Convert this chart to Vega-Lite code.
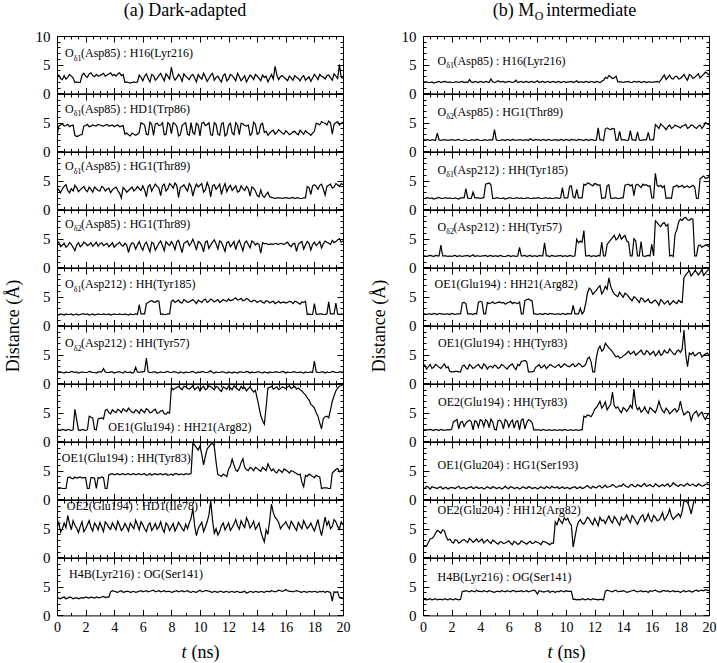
{
"$schema":"https://vega.github.io/schema/vega-lite/v6.json",
"background":"white",
"padding":{"left":3,"top":1,"right":0,"bottom":0},
"data":{"values":[
{"t":0,"a1":2.9,"a2":2.7,"a3":3.8,"a4":4.1,"a5":1.9,"a6":1.9,"a7":2.1,"a8":1.9,"a9":5.2,"a10":3.1,"b1":1.9,"b2":1.9,"b3":1.9,"b4":2.0,"b5":2.0,"b6":2.9,"b7":2.1,"b8":2.0,"b9":2.1,"b10":2.8},
{"t":0.25,"a1":2.6,"a2":4.6,"a3":2.9,"a4":3.6,"a5":2.0,"a6":2.0,"a7":1.9,"a8":2.0,"a9":4.4,"a10":2.9,"b1":2.0,"b2":2.0,"b3":2.0,"b4":1.9,"b5":1.9,"b6":2.5,"b7":2.0,"b8":2.3,"b9":2.0,"b10":2.7},
{"t":0.5,"a1":3.1,"a2":4.4,"a3":4.0,"a4":4.2,"a5":1.8,"a6":1.8,"a7":2.0,"a8":1.9,"a9":6.0,"a10":3.2,"b1":1.9,"b2":1.9,"b3":1.9,"b4":2.1,"b5":2.0,"b6":3.3,"b7":2.1,"b8":1.8,"b9":3.2,"b10":2.9},
{"t":0.75,"a1":2.8,"a2":4.7,"a3":3.3,"a4":3.8,"a5":1.9,"a6":1.9,"a7":2.1,"a8":3.8,"a9":7.3,"a10":3.0,"b1":1.8,"b2":2.0,"b3":1.8,"b4":1.9,"b5":2.1,"b6":2.8,"b7":1.9,"b8":2.1,"b9":3.6,"b10":2.8},
{"t":1,"a1":3.0,"a2":4.5,"a3":3.6,"a4":4.0,"a5":2.0,"a6":2.1,"a7":1.9,"a8":3.7,"a9":4.8,"a10":3.1,"b1":2.0,"b2":3.2,"b3":2.0,"b4":2.0,"b5":1.9,"b6":3.1,"b7":2.0,"b8":1.9,"b9":4.7,"b10":2.7},
{"t":1.25,"a1":1.9,"a2":2.8,"a3":4.2,"a4":2.9,"a5":1.9,"a6":1.9,"a7":5.6,"a8":3.9,"a9":5.6,"a10":3.0,"b1":1.9,"b2":1.9,"b3":1.9,"b4":3.9,"b5":2.0,"b6":2.6,"b7":2.1,"b8":2.2,"b9":4.2,"b10":2.8},
{"t":1.5,"a1":1.9,"a2":2.7,"a3":3.1,"a4":4.3,"a5":1.8,"a6":1.8,"a7":2.0,"a8":3.8,"a9":4.3,"a10":2.9,"b1":2.1,"b2":2.0,"b3":2.0,"b4":2.0,"b5":1.9,"b6":3.4,"b7":1.9,"b8":2.0,"b9":4.6,"b10":2.9},
{"t":1.75,"a1":3.2,"a2":2.9,"a3":3.7,"a4":3.9,"a5":2.0,"a6":2.0,"a7":2.1,"a8":3.7,"a9":6.2,"a10":3.1,"b1":1.9,"b2":1.9,"b3":1.9,"b4":1.9,"b5":2.0,"b6":2.9,"b7":2.0,"b8":1.8,"b9":3.0,"b10":2.7},
{"t":2,"a1":3.0,"a2":4.5,"a3":3.4,"a4":4.2,"a5":1.9,"a6":1.9,"a7":1.9,"a8":3.8,"a9":5.0,"a10":3.2,"b1":1.9,"b2":2.0,"b3":1.9,"b4":1.9,"b5":2.1,"b6":2.0,"b7":2.1,"b8":2.1,"b9":2.7,"b10":2.8},
{"t":2.25,"a1":3.4,"a2":4.3,"a3":3.9,"a4":4.0,"a5":1.8,"a6":2.1,"a7":4.4,"a8":1.9,"a9":6.4,"a10":3.0,"b1":2.0,"b2":1.9,"b3":2.0,"b4":2.1,"b5":1.9,"b6":2.1,"b7":3.6,"b8":1.9,"b9":3.1,"b10":2.9},
{"t":2.5,"a1":3.1,"a2":4.6,"a3":3.0,"a4":3.7,"a5":2.0,"a6":1.9,"a7":4.1,"a8":3.8,"a9":4.6,"a10":3.1,"b1":1.9,"b2":2.1,"b3":1.8,"b4":2.0,"b5":2.0,"b6":2.0,"b7":2.2,"b8":2.3,"b9":2.5,"b10":2.7},
{"t":2.75,"a1":3.3,"a2":4.4,"a3":3.6,"a4":4.4,"a5":1.9,"a6":1.8,"a7":2.0,"a8":1.9,"a9":5.5,"a10":3.2,"b1":2.1,"b2":1.9,"b3":2.0,"b4":1.9,"b5":3.9,"b6":3.0,"b7":3.5,"b8":2.0,"b9":3.0,"b10":4.2},
{"t":3,"a1":3.1,"a2":4.6,"a3":3.2,"a4":4.1,"a5":1.9,"a6":2.0,"a7":4.0,"a8":3.7,"a9":6.1,"a10":3.1,"b1":2.0,"b2":2.0,"b3":3.6,"b4":2.0,"b5":3.8,"b6":2.7,"b7":3.2,"b8":1.8,"b9":2.8,"b10":4.3},
{"t":3.25,"a1":3.5,"a2":4.4,"a3":3.8,"a4":3.8,"a5":2.0,"a6":2.6,"a7":3.9,"a8":3.8,"a9":4.5,"a10":3.3,"b1":2.4,"b2":1.9,"b3":1.9,"b4":1.9,"b5":2.0,"b6":3.3,"b7":3.7,"b8":2.1,"b9":3.3,"b10":4.1},
{"t":3.5,"a1":3.2,"a2":4.7,"a3":3.5,"a4":4.2,"a5":1.9,"a6":1.9,"a7":5.6,"a8":1.9,"a9":5.8,"a10":3.2,"b1":1.9,"b2":2.0,"b3":3.0,"b4":2.2,"b5":1.9,"b6":2.6,"b7":2.0,"b8":1.9,"b9":2.6,"b10":4.2},
{"t":3.75,"a1":3.6,"a2":4.5,"a3":2.9,"a4":3.9,"a5":1.8,"a6":2.0,"a7":4.8,"a8":4.4,"a9":4.9,"a10":4.1,"b1":2.0,"b2":2.1,"b3":2.0,"b4":2.0,"b5":2.0,"b6":3.1,"b7":3.4,"b8":2.2,"b9":3.2,"b10":4.4},
{"t":4,"a1":3.3,"a2":4.3,"a3":3.7,"a4":3.5,"a5":2.0,"a6":1.8,"a7":5.2,"a8":4.3,"a9":5.4,"a10":4.2,"b1":2.1,"b2":1.9,"b3":1.9,"b4":1.9,"b5":4.2,"b6":2.8,"b7":3.8,"b8":2.0,"b9":2.9,"b10":4.2},
{"t":4.25,"a1":3.4,"a2":4.6,"a3":3.3,"a4":4.1,"a5":1.9,"a6":2.0,"a7":5.6,"a8":4.5,"a9":6.3,"a10":4.0,"b1":1.9,"b2":2.0,"b3":2.0,"b4":2.0,"b5":2.0,"b6":3.4,"b7":2.6,"b8":1.8,"b9":2.5,"b10":4.3},
{"t":4.5,"a1":3.1,"a2":4.4,"a3":2.0,"a4":3.9,"a5":1.9,"a6":1.9,"a7":5.0,"a8":4.4,"a9":4.7,"a10":4.3,"b1":2.0,"b2":1.9,"b3":4.5,"b4":1.9,"b5":4.0,"b6":2.5,"b7":3.5,"b8":2.2,"b9":3.1,"b10":4.1},
{"t":4.75,"a1":1.9,"a2":3.0,"a3":3.5,"a4":4.2,"a5":2.0,"a6":2.1,"a7":5.4,"a8":4.3,"a9":5.9,"a10":4.1,"b1":2.5,"b2":2.0,"b3":4.3,"b4":2.1,"b5":3.9,"b6":3.0,"b7":3.9,"b8":1.9,"b9":2.4,"b10":4.2},
{"t":5,"a1":1.9,"a2":2.9,"a3":3.3,"a4":2.6,"a5":1.8,"a6":1.9,"a7":5.8,"a8":4.5,"a9":4.6,"a10":4.2,"b1":1.9,"b2":3.8,"b3":1.9,"b4":2.0,"b5":3.8,"b6":3.2,"b7":2.1,"b8":2.1,"b9":2.8,"b10":4.0},
{"t":5.25,"a1":1.9,"a2":3.2,"a3":3.9,"a4":4.3,"a5":1.9,"a6":1.8,"a7":5.1,"a8":4.4,"a9":5.5,"a10":4.1,"b1":2.2,"b2":1.9,"b3":2.0,"b4":1.9,"b5":4.0,"b6":2.6,"b7":3.6,"b8":2.0,"b9":2.3,"b10":4.2},
{"t":5.5,"a1":1.9,"a2":2.8,"a3":3.5,"a4":3.2,"a5":2.0,"a6":2.8,"a7":5.5,"a8":4.3,"a9":6.5,"a10":4.0,"b1":2.0,"b2":2.0,"b3":1.9,"b4":2.0,"b5":3.9,"b6":3.3,"b7":3.3,"b8":1.8,"b9":2.7,"b10":4.3},
{"t":5.75,"a1":3.2,"a2":3.3,"a3":3.6,"a4":4.5,"a5":3.6,"a6":1.9,"a7":4.9,"a8":4.5,"a9":4.8,"a10":4.2,"b1":1.9,"b2":1.9,"b3":1.8,"b4":1.9,"b5":3.7,"b6":2.8,"b7":3.8,"b8":2.3,"b9":2.5,"b10":4.1},
{"t":6,"a1":2.2,"a2":4.8,"a3":4.1,"a4":3.0,"a5":2.0,"a6":2.0,"a7":5.3,"a8":4.4,"a9":5.7,"a10":4.1,"b1":2.1,"b2":2.0,"b3":2.0,"b4":2.1,"b5":4.0,"b6":2.9,"b7":2.5,"b8":1.9,"b9":2.9,"b10":4.2},
{"t":6.25,"a1":3.4,"a2":3.0,"a3":2.2,"a4":4.4,"a5":3.8,"a6":4.4,"a7":5.7,"a8":4.2,"a9":4.5,"a10":4.3,"b1":1.9,"b2":2.1,"b3":1.9,"b4":2.0,"b5":3.8,"b6":3.4,"b7":3.7,"b8":2.1,"b9":2.2,"b10":4.3},
{"t":6.5,"a1":2.0,"a2":5.1,"a3":4.3,"a4":2.7,"a5":4.2,"a6":1.9,"a7":5.0,"a8":4.5,"a9":6.0,"a10":4.2,"b1":2.3,"b2":1.9,"b3":2.0,"b4":1.9,"b5":3.9,"b6":2.4,"b7":3.4,"b8":2.0,"b9":2.6,"b10":4.1},
{"t":6.75,"a1":3.1,"a2":2.8,"a3":3.8,"a4":4.2,"a5":4.1,"a6":2.0,"a7":5.4,"a8":4.4,"a9":5.2,"a10":4.4,"b1":2.0,"b2":2.0,"b3":1.9,"b4":3.5,"b5":4.1,"b6":3.1,"b7":2.0,"b8":1.8,"b9":2.4,"b10":4.2},
{"t":7,"a1":2.6,"a2":4.9,"a3":4.0,"a4":3.6,"a5":4.3,"a6":1.8,"a7":4.9,"a8":4.3,"a9":4.9,"a10":4.2,"b1":1.9,"b2":1.9,"b3":1.9,"b4":2.0,"b5":2.0,"b6":3.9,"b7":3.9,"b8":2.2,"b9":2.7,"b10":4.1},
{"t":7.25,"a1":3.5,"a2":4.6,"a3":2.4,"a4":4.6,"a5":1.9,"a6":2.0,"a7":5.3,"a8":4.5,"a9":6.2,"a10":4.1,"b1":2.1,"b2":2.0,"b3":2.0,"b4":1.9,"b5":4.5,"b6":3.8,"b7":3.2,"b8":1.9,"b9":2.3,"b10":4.3},
{"t":7.5,"a1":2.2,"a2":2.9,"a3":4.4,"a4":2.9,"a5":1.9,"a6":1.9,"a7":4.8,"a8":4.4,"a9":4.4,"a10":4.3,"b1":2.0,"b2":2.2,"b3":1.9,"b4":2.1,"b5":4.4,"b6":2.0,"b7":3.6,"b8":2.1,"b9":2.8,"b10":4.2},
{"t":7.75,"a1":3.0,"a2":5.0,"a3":3.6,"a4":4.1,"a5":2.0,"a6":2.1,"a7":5.1,"a8":4.2,"a9":5.6,"a10":4.2,"b1":1.9,"b2":1.9,"b3":2.0,"b4":2.0,"b5":2.0,"b6":2.1,"b7":2.0,"b8":2.0,"b9":2.5,"b10":4.4},
{"t":8,"a1":4.6,"a2":3.1,"a3":4.2,"a4":4.5,"a5":4.2,"a6":1.9,"a7":9.4,"a8":4.4,"a9":5.3,"a10":4.0,"b1":2.2,"b2":2.0,"b3":2.0,"b4":1.9,"b5":1.9,"b6":3.0,"b7":2.0,"b8":1.8,"b9":2.6,"b10":3.7},
{"t":8.25,"a1":2.3,"a2":4.8,"a3":4.6,"a4":3.1,"a5":4.0,"a6":2.0,"a7":9.2,"a8":4.5,"a9":4.6,"a10":4.2,"b1":2.0,"b2":1.9,"b3":1.9,"b4":2.0,"b5":2.0,"b6":2.7,"b7":1.9,"b8":2.2,"b9":2.2,"b10":4.2},
{"t":8.5,"a1":3.3,"a2":2.7,"a3":2.1,"a4":4.7,"a5":4.4,"a6":1.8,"a7":9.6,"a8":4.3,"a9":6.1,"a10":4.1,"b1":1.9,"b2":2.0,"b3":2.0,"b4":4.3,"b5":2.1,"b6":3.2,"b7":2.0,"b8":1.9,"b9":2.7,"b10":4.1},
{"t":8.75,"a1":2.1,"a2":4.5,"a3":4.0,"a4":2.6,"a5":3.9,"a6":1.9,"a7":9.0,"a8":4.4,"a9":5.0,"a10":4.3,"b1":2.1,"b2":2.1,"b3":1.9,"b4":2.0,"b5":1.9,"b6":2.9,"b7":2.0,"b8":2.1,"b9":2.4,"b10":4.3},
{"t":9,"a1":3.0,"a2":5.0,"a3":3.7,"a4":4.4,"a5":4.3,"a6":2.0,"a7":9.5,"a8":4.5,"a9":5.8,"a10":4.2,"b1":2.0,"b2":1.9,"b3":1.9,"b4":2.1,"b5":2.0,"b6":3.1,"b7":1.9,"b8":2.3,"b9":2.5,"b10":4.2},
{"t":9.25,"a1":2.4,"a2":2.8,"a3":4.5,"a4":3.8,"a5":4.1,"a6":1.9,"a7":9.1,"a8":4.4,"a9":6.0,"a10":4.1,"b1":1.9,"b2":2.0,"b3":2.0,"b4":1.9,"b5":1.9,"b6":2.8,"b7":2.0,"b8":2.0,"b9":6.2,"b10":4.0},
{"t":9.5,"a1":3.3,"a2":3.3,"a3":2.3,"a4":4.9,"a5":4.5,"a6":2.1,"a7":9.7,"a8":9.8,"a9":8.5,"a10":4.2,"b1":2.1,"b2":1.9,"b3":1.9,"b4":2.0,"b5":2.0,"b6":3.3,"b7":2.0,"b8":1.9,"b9":6.8,"b10":4.1},
{"t":9.75,"a1":2.0,"a2":4.9,"a3":4.4,"a4":3.0,"a5":3.8,"a6":1.8,"a7":9.3,"a8":9.0,"a9":3.8,"a10":4.0,"b1":2.0,"b2":2.0,"b3":3.8,"b4":1.9,"b5":2.1,"b6":3.0,"b7":1.9,"b8":2.2,"b9":5.9,"b10":4.2},
{"t":10,"a1":2.8,"a2":2.7,"a3":4.2,"a4":4.3,"a5":4.2,"a6":1.9,"a7":8.8,"a8":9.3,"a9":5.6,"a10":4.4,"b1":1.9,"b2":2.1,"b3":2.0,"b4":2.0,"b5":1.9,"b6":3.2,"b7":2.0,"b8":2.0,"b9":6.5,"b10":4.3},
{"t":10.25,"a1":3.5,"a2":5.1,"a3":3.0,"a4":2.7,"a5":4.4,"a6":2.0,"a7":9.6,"a8":6.0,"a9":4.5,"a10":4.2,"b1":2.0,"b2":1.9,"b3":4.0,"b4":2.1,"b5":2.0,"b6":2.9,"b7":2.0,"b8":1.8,"b9":6.0,"b10":4.2},
{"t":10.5,"a1":2.1,"a2":4.7,"a3":4.7,"a4":4.6,"a5":4.0,"a6":1.9,"a7":9.2,"a8":8.8,"a9":6.2,"a10":4.3,"b1":1.9,"b2":2.0,"b3":2.2,"b4":1.9,"b5":3.5,"b6":3.4,"b7":1.9,"b8":2.1,"b9":1.8,"b10":2.8},
{"t":10.75,"a1":3.2,"a2":2.9,"a3":2.2,"a4":3.9,"a5":4.6,"a6":2.2,"a7":9.5,"a8":9.6,"a9":9.9,"a10":4.1,"b1":2.2,"b2":1.9,"b3":3.5,"b4":4.9,"b5":2.0,"b6":3.1,"b7":2.0,"b8":1.9,"b9":5.2,"b10":2.7},
{"t":11,"a1":2.3,"a2":5.0,"a3":4.3,"a4":4.8,"a5":4.1,"a6":1.8,"a7":9.0,"a8":9.2,"a9":4.2,"a10":4.2,"b1":2.0,"b2":2.0,"b3":2.0,"b4":4.6,"b5":3.0,"b6":3.3,"b7":2.0,"b8":2.2,"b9":6.6,"b10":2.7},
{"t":11.25,"a1":3.0,"a2":3.0,"a3":3.9,"a4":3.2,"a5":4.5,"a6":1.9,"a7":9.4,"a8":4.3,"a9":3.9,"a10":4.0,"b1":1.9,"b2":1.9,"b3":4.4,"b4":6.4,"b5":2.4,"b6":3.0,"b7":4.4,"b8":2.0,"b9":5.8,"b10":2.8},
{"t":11.5,"a1":2.0,"a2":4.8,"a3":2.6,"a4":4.4,"a5":4.2,"a6":2.0,"a7":8.7,"a8":4.0,"a9":5.5,"a10":4.2,"b1":2.0,"b2":2.0,"b3":4.6,"b4":2.0,"b5":5.6,"b6":4.3,"b7":4.6,"b8":2.4,"b9":7.0,"b10":2.9},
{"t":11.75,"a1":3.4,"a2":2.7,"a3":4.5,"a4":2.8,"a5":4.3,"a6":1.9,"a7":9.3,"a8":4.2,"a9":4.8,"a10":4.1,"b1":2.1,"b2":2.1,"b3":4.3,"b4":1.9,"b5":6.2,"b6":3.8,"b7":4.3,"b8":1.9,"b9":6.1,"b10":2.7},
{"t":12,"a1":2.5,"a2":4.6,"a3":3.8,"a4":4.5,"a5":4.6,"a6":2.0,"a7":9.6,"a8":5.3,"a9":6.0,"a10":4.0,"b1":1.9,"b2":1.9,"b3":4.5,"b4":2.0,"b5":5.8,"b6":2.0,"b7":5.6,"b8":2.1,"b9":6.8,"b10":2.8},
{"t":12.25,"a1":3.1,"a2":3.2,"a3":3.3,"a4":4.0,"a5":4.4,"a6":1.8,"a7":9.0,"a8":7.0,"a9":5.2,"a10":4.2,"b1":2.0,"b2":4.1,"b3":4.2,"b4":2.1,"b5":6.6,"b6":6.0,"b7":6.4,"b8":2.3,"b9":5.5,"b10":2.7},
{"t":12.5,"a1":2.2,"a2":5.0,"a3":4.1,"a4":3.1,"a5":4.8,"a6":1.9,"a7":9.4,"a8":5.1,"a9":6.6,"a10":4.1,"b1":2.1,"b2":2.0,"b3":1.9,"b4":4.4,"b5":5.5,"b6":5.6,"b7":5.8,"b8":2.0,"b9":6.4,"b10":2.8},
{"t":12.75,"a1":2.9,"a2":2.9,"a3":3.2,"a4":4.7,"a5":4.5,"a6":2.0,"a7":8.9,"a8":5.5,"a9":4.9,"a10":4.0,"b1":2.8,"b2":3.9,"b3":2.0,"b4":2.0,"b5":6.8,"b6":7.0,"b7":6.9,"b8":2.5,"b9":5.9,"b10":4.2},
{"t":13,"a1":2.6,"a2":4.8,"a3":3.6,"a4":2.9,"a5":4.3,"a6":1.9,"a7":9.2,"a8":7.1,"a9":5.7,"a10":4.1,"b1":3.1,"b2":3.9,"b3":4.3,"b4":4.4,"b5":8.3,"b6":6.2,"b7":6.0,"b8":2.2,"b9":7.2,"b10":4.3},
{"t":13.25,"a1":2.0,"a2":4.4,"a3":4.0,"a4":4.6,"a5":4.7,"a6":2.1,"a7":8.8,"a8":5.2,"a9":6.9,"a10":3.9,"b1":2.6,"b2":4.0,"b3":1.9,"b4":5.2,"b5":6.0,"b6":5.5,"b7":8.6,"b8":2.6,"b9":6.0,"b10":4.1},
{"t":13.5,"a1":3.2,"a2":2.8,"a3":2.3,"a4":3.4,"a5":4.2,"a6":1.8,"a7":9.5,"a8":5.6,"a9":5.1,"a10":4.2,"b1":3.0,"b2":1.9,"b3":2.0,"b4":4.8,"b5":5.2,"b6":4.6,"b7":5.8,"b8":2.1,"b9":6.7,"b10":4.4},
{"t":13.75,"a1":2.4,"a2":5.1,"a3":3.7,"a4":4.4,"a5":4.4,"a6":1.9,"a7":8.6,"a8":5.0,"a9":6.3,"a10":4.0,"b1":2.0,"b2":3.5,"b3":1.9,"b4":5.8,"b5":5.8,"b6":4.4,"b7":5.4,"b8":2.4,"b9":5.6,"b10":4.2},
{"t":14,"a1":3.0,"a2":3.0,"a3":2.4,"a4":4.2,"a5":4.0,"a6":2.0,"a7":7.5,"a8":5.4,"a9":5.4,"a10":4.1,"b1":1.9,"b2":2.0,"b3":2.0,"b4":5.3,"b5":4.9,"b6":4.8,"b7":5.9,"b8":2.7,"b9":6.5,"b10":4.3},
{"t":14.25,"a1":2.2,"a2":4.7,"a3":3.4,"a4":2.5,"a5":4.3,"a6":1.9,"a7":4.5,"a8":4.9,"a9":4.6,"a10":4.2,"b1":2.0,"b2":1.9,"b3":4.3,"b4":4.6,"b5":5.4,"b6":5.3,"b7":5.2,"b8":2.2,"b9":7.4,"b10":4.0},
{"t":14.5,"a1":2.8,"a2":3.3,"a3":2.1,"a4":4.1,"a5":3.9,"a6":2.0,"a7":3.0,"a8":5.3,"a9":2.7,"a10":4.0,"b1":1.9,"b2":3.6,"b3":4.1,"b4":2.0,"b5":4.6,"b6":5.1,"b7":6.3,"b8":2.5,"b9":6.1,"b10":4.2},
{"t":14.75,"a1":2.0,"a2":2.8,"a3":3.0,"a4":4.0,"a5":4.2,"a6":1.8,"a7":9.3,"a8":6.2,"a9":4.0,"a10":4.2,"b1":2.1,"b2":2.0,"b3":2.4,"b4":5.0,"b5":5.0,"b6":5.6,"b7":9.1,"b8":2.3,"b9":6.9,"b10":4.4},
{"t":15,"a1":3.3,"a2":3.5,"a3":2.1,"a4":4.1,"a5":4.1,"a6":1.9,"a7":9.6,"a8":5.0,"a9":9.3,"a10":4.3,"b1":2.0,"b2":3.4,"b3":4.4,"b4":2.0,"b5":4.4,"b6":5.2,"b7":5.5,"b8":2.6,"b9":5.8,"b10":4.1},
{"t":15.25,"a1":4.7,"a2":3.0,"a3":1.9,"a4":4.2,"a5":3.8,"a6":2.0,"a7":9.3,"a8":4.8,"a9":7.0,"a10":4.1,"b1":1.9,"b2":1.9,"b3":3.8,"b4":4.5,"b5":4.8,"b6":5.8,"b7":5.1,"b8":2.2,"b9":7.1,"b10":4.3},
{"t":15.5,"a1":2.4,"a2":3.8,"a3":2.0,"a4":4.0,"a5":4.2,"a6":1.9,"a7":9.0,"a8":5.2,"a9":6.1,"a10":4.4,"b1":2.1,"b2":2.0,"b3":4.2,"b4":1.9,"b5":4.1,"b6":5.0,"b7":6.0,"b8":2.8,"b9":6.3,"b10":4.2},
{"t":15.75,"a1":3.1,"a2":3.2,"a3":1.9,"a4":4.1,"a5":4.0,"a6":2.1,"a7":9.5,"a8":4.7,"a9":5.5,"a10":4.2,"b1":2.0,"b2":3.3,"b3":4.0,"b4":2.1,"b5":4.6,"b6":5.5,"b7":4.9,"b8":2.4,"b9":7.6,"b10":4.0},
{"t":16,"a1":2.5,"a2":3.6,"a3":2.0,"a4":4.2,"a5":3.9,"a6":1.8,"a7":9.2,"a8":5.1,"a9":6.2,"a10":4.5,"b1":1.9,"b2":2.0,"b3":2.0,"b4":4.0,"b5":3.9,"b6":5.3,"b7":5.6,"b8":2.3,"b9":6.2,"b10":4.2},
{"t":16.25,"a1":3.0,"a2":2.9,"a3":1.9,"a4":3.9,"a5":4.2,"a6":1.9,"a7":9.7,"a8":4.6,"a9":5.0,"a10":4.2,"b1":2.0,"b2":4.7,"b3":6.3,"b4":8.1,"b5":4.4,"b6":4.8,"b7":5.0,"b8":2.7,"b9":7.0,"b10":4.4},
{"t":16.5,"a1":2.3,"a2":3.4,"a3":2.1,"a4":4.1,"a5":3.8,"a6":2.0,"a7":9.4,"a8":4.9,"a9":5.8,"a10":4.1,"b1":1.9,"b2":4.0,"b3":4.0,"b4":7.4,"b5":3.5,"b6":5.7,"b7":7.0,"b8":2.2,"b9":6.5,"b10":4.1},
{"t":16.75,"a1":2.8,"a2":3.1,"a3":2.0,"a4":2.8,"a5":4.1,"a6":1.9,"a7":9.1,"a8":4.5,"a9":4.7,"a10":4.3,"b1":2.8,"b2":4.5,"b3":3.8,"b4":7.6,"b5":4.2,"b6":5.1,"b7":5.3,"b8":2.6,"b9":7.8,"b10":4.3},
{"t":17,"a1":2.2,"a2":3.7,"a3":1.9,"a4":4.3,"a5":3.7,"a6":2.0,"a7":9.0,"a8":4.4,"a9":5.5,"a10":4.1,"b1":2.4,"b2":3.8,"b3":1.9,"b4":7.2,"b5":4.0,"b6":5.4,"b7":5.8,"b8":2.5,"b9":6.9,"b10":4.2},
{"t":17.25,"a1":3.1,"a2":3.0,"a3":2.0,"a4":3.2,"a5":4.0,"a6":1.8,"a7":8.4,"a8":2.2,"a9":6.4,"a10":4.2,"b1":3.2,"b2":4.6,"b3":2.0,"b4":2.0,"b5":3.6,"b6":6.0,"b7":4.8,"b8":2.2,"b9":8.4,"b10":4.1},
{"t":17.5,"a1":2.6,"a2":3.3,"a3":4.0,"a4":4.5,"a5":1.9,"a6":1.9,"a7":7.6,"a8":4.0,"a9":5.0,"a10":4.0,"b1":2.5,"b2":4.2,"b3":3.9,"b4":1.9,"b5":4.3,"b6":5.2,"b7":5.5,"b8":2.9,"b9":6.6,"b10":4.3},
{"t":17.75,"a1":2.1,"a2":2.8,"a3":2.6,"a4":3.0,"a5":1.9,"a6":2.0,"a7":6.5,"a8":4.2,"a9":6.0,"a10":4.1,"b1":3.0,"b2":4.4,"b3":4.2,"b4":6.5,"b5":3.8,"b6":5.6,"b7":5.1,"b8":2.4,"b9":7.3,"b10":4.2},
{"t":18,"a1":3.3,"a2":3.5,"a3":4.3,"a4":4.4,"a5":3.8,"a6":3.9,"a7":5.8,"a8":3.8,"a9":4.6,"a10":4.2,"b1":2.6,"b2":4.1,"b3":4.0,"b4":8.4,"b5":4.1,"b6":5.4,"b7":7.0,"b8":2.6,"b9":7.0,"b10":4.0},
{"t":18.25,"a1":2.4,"a2":4.8,"a3":3.5,"a4":4.1,"a5":1.9,"a6":1.9,"a7":4.4,"a8":4.0,"a9":6.6,"a10":4.0,"b1":3.3,"b2":4.5,"b3":3.8,"b4":8.6,"b5":8.3,"b6":9.3,"b7":4.6,"b8":2.3,"b9":9.9,"b10":4.3},
{"t":18.5,"a1":3.0,"a2":5.2,"a3":4.4,"a4":3.4,"a5":2.0,"a6":2.0,"a7":2.2,"a8":1.9,"a9":3.8,"a10":4.1,"b1":2.3,"b2":4.0,"b3":4.1,"b4":8.3,"b5":9.2,"b6":2.9,"b7":5.2,"b8":2.8,"b9":9.6,"b10":4.2},
{"t":18.75,"a1":2.5,"a2":4.9,"a3":2.5,"a4":4.6,"a5":1.9,"a6":1.8,"a7":4.3,"a8":2.0,"a9":7.0,"a10":4.0,"b1":3.1,"b2":4.6,"b3":4.0,"b4":8.5,"b5":8.6,"b6":5.0,"b7":3.6,"b8":2.5,"b9":7.6,"b10":4.1},
{"t":19,"a1":3.2,"a2":5.3,"a3":4.2,"a4":4.2,"a5":4.1,"a6":1.9,"a7":4.1,"a8":1.9,"a9":6.3,"a10":4.1,"b1":2.8,"b2":4.2,"b3":3.9,"b4":2.0,"b5":9.5,"b6":4.8,"b7":5.0,"b8":2.4,"b9":10.5,"b10":4.3},
{"t":19.25,"a1":2.3,"a2":3.0,"a3":3.7,"a4":4.7,"a5":2.0,"a6":2.1,"a7":7.0,"a8":4.6,"a9":5.4,"a10":2.5,"b1":3.4,"b2":4.4,"b3":1.9,"b4":3.8,"b5":8.8,"b6":5.3,"b7":4.4,"b8":2.7,"b9":11,"b10":4.2},
{"t":19.5,"a1":3.0,"a2":5.0,"a3":4.5,"a4":4.5,"a5":3.9,"a6":1.9,"a7":8.8,"a8":5.2,"a9":6.2,"a10":4.0,"b1":3.0,"b2":4.0,"b3":5.6,"b4":3.5,"b5":9.7,"b6":4.6,"b7":5.1,"b8":2.3,"b9":11,"b10":4.4},
{"t":19.75,"a1":5.0,"a2":4.6,"a3":4.0,"a4":5.0,"a5":1.9,"a6":2.0,"a7":9.6,"a8":4.8,"a9":4.9,"a10":3.1,"b1":3.7,"b2":5.0,"b3":5.4,"b4":3.9,"b5":9.1,"b6":5.1,"b7":3.8,"b8":2.6,"b9":11,"b10":4.5},
{"t":20,"a1":2.6,"a2":5.1,"a3":4.3,"a4":4.6,"a5":1.9,"a6":1.9,"a7":9.9,"a8":5.3,"a9":5.7,"a10":3.0,"b1":3.2,"b2":4.6,"b3":5.7,"b4":3.6,"b5":9.8,"b6":5.0,"b7":4.9,"b8":2.5,"b9":11,"b10":4.3},
{"t":0.125,"a1":3.2,"a2":4.4,"a3":3.4,"a4":4.4,"a5":1.8,"a6":2.0,"a7":2.0,"a8":2.0,"a9":6.1,"a10":3.0,"b1":2.0,"b2":2.0,"b3":1.9,"b4":2.0,"b5":2.0,"b6":3.2,"b7":2.0,"b8":1.9,"b9":2.0,"b10":2.8},
{"t":0.375,"a1":2.4,"a2":4.8,"a3":3.6,"a4":3.9,"a5":1.9,"a6":1.9,"a7":2.1,"a8":1.9,"a9":5.0,"a10":3.1,"b1":1.9,"b2":2.0,"b3":2.0,"b4":2.0,"b5":2.0,"b6":2.9,"b7":2.0,"b8":2.1,"b9":2.6,"b10":2.8},
{"t":0.625,"a1":2.5,"a2":4.5,"a3":4.3,"a4":3.5,"a5":2.0,"a6":2.0,"a7":1.9,"a8":1.9,"a9":5.2,"a10":2.9,"b1":2.0,"b2":2.0,"b3":2.0,"b4":2.0,"b5":1.9,"b6":2.6,"b7":2.0,"b8":2.2,"b9":3.3,"b10":2.7},
{"t":0.875,"a1":3.3,"a2":4.3,"a3":2.9,"a4":4.3,"a5":1.9,"a6":1.9,"a7":2.0,"a8":3.9,"a9":5.9,"a10":3.2,"b1":1.9,"b2":1.9,"b3":1.9,"b4":2.1,"b5":2.0,"b6":3.3,"b7":2.1,"b8":2.0,"b9":4.2,"b10":2.9},
{"t":1.125,"a1":2.7,"a2":4.6,"a3":3.2,"a4":3.5,"a5":1.8,"a6":2.0,"a7":2.0,"a8":3.6,"a9":6.4,"a10":2.9,"b1":2.1,"b2":2.0,"b3":2.1,"b4":2.0,"b5":2.1,"b6":2.8,"b7":1.9,"b8":2.1,"b9":4.5,"b10":2.8},
{"t":1.375,"a1":2.0,"a2":2.6,"a3":3.8,"a4":3.9,"a5":2.0,"a6":2.0,"a7":3.8,"a8":3.7,"a9":5.1,"a10":3.1,"b1":2.0,"b2":2.0,"b3":1.9,"b4":2.0,"b5":2.0,"b6":3.0,"b7":2.0,"b8":1.8,"b9":4.8,"b10":2.7},
{"t":1.625,"a1":1.9,"a2":2.9,"a3":3.4,"a4":3.6,"a5":1.9,"a6":1.9,"a7":1.9,"a8":3.9,"a9":5.4,"a10":3.0,"b1":2.0,"b2":2.0,"b3":2.0,"b4":2.0,"b5":2.0,"b6":2.7,"b7":2.0,"b8":2.1,"b9":3.6,"b10":2.8},
{"t":1.875,"a1":3.5,"a2":4.4,"a3":4.0,"a4":4.4,"a5":2.0,"a6":1.9,"a7":2.0,"a8":3.8,"a9":4.5,"a10":3.0,"b1":2.0,"b2":2.0,"b3":2.0,"b4":2.0,"b5":1.9,"b6":2.1,"b7":2.0,"b8":2.0,"b9":3.2,"b10":2.9},
{"t":2.125,"a1":2.8,"a2":4.7,"a3":3.1,"a4":3.8,"a5":2.0,"a6":1.9,"a7":2.0,"a8":1.9,"a9":5.7,"a10":3.1,"b1":1.9,"b2":2.0,"b3":1.9,"b4":2.0,"b5":2.0,"b6":2.0,"b7":3.4,"b8":2.0,"b9":2.5,"b10":2.7},
{"t":2.375,"a1":3.6,"a2":4.4,"a3":3.5,"a4":4.3,"a5":1.9,"a6":2.0,"a7":4.2,"a8":3.8,"a9":5.2,"a10":3.2,"b1":2.0,"b2":2.0,"b3":1.9,"b4":1.9,"b5":2.0,"b6":2.1,"b7":3.8,"b8":2.1,"b9":3.0,"b10":2.8},
{"t":2.625,"a1":2.9,"a2":4.5,"a3":3.9,"a4":4.0,"a5":1.8,"a6":1.9,"a7":2.1,"a8":3.7,"a9":6.0,"a10":3.0,"b1":2.0,"b2":1.9,"b3":2.0,"b4":2.0,"b5":2.0,"b6":2.0,"b7":3.3,"b8":1.9,"b9":2.7,"b10":2.8},
{"t":2.875,"a1":3.0,"a2":4.7,"a3":3.3,"a4":3.7,"a5":2.0,"a6":2.0,"a7":3.9,"a8":3.8,"a9":4.8,"a10":3.1,"b1":1.9,"b2":2.0,"b3":2.0,"b4":2.0,"b5":4.0,"b6":3.2,"b7":2.6,"b8":2.1,"b9":3.1,"b10":4.2},
{"t":3.125,"a1":3.3,"a2":4.5,"a3":4.0,"a4":4.3,"a5":1.9,"a6":2.0,"a7":4.1,"a8":3.9,"a9":5.3,"a10":3.2,"b1":1.9,"b2":1.9,"b3":2.0,"b4":2.1,"b5":2.0,"b6":2.5,"b7":3.5,"b8":2.0,"b9":2.6,"b10":4.2},
{"t":3.375,"a1":3.0,"a2":4.6,"a3":3.2,"a4":4.0,"a5":1.9,"a6":2.0,"a7":5.4,"a8":1.9,"a9":6.2,"a10":3.1,"b1":2.0,"b2":2.0,"b3":1.9,"b4":2.0,"b5":2.0,"b6":3.0,"b7":3.4,"b8":2.2,"b9":3.0,"b10":4.3},
{"t":3.625,"a1":3.4,"a2":4.4,"a3":3.7,"a4":3.6,"a5":2.0,"a6":1.9,"a7":5.0,"a8":4.3,"a9":5.2,"a10":3.2,"b1":2.1,"b2":1.9,"b3":2.0,"b4":1.9,"b5":2.1,"b6":2.8,"b7":3.6,"b8":2.0,"b9":2.9,"b10":4.1},
{"t":3.875,"a1":3.1,"a2":4.6,"a3":3.4,"a4":4.3,"a5":1.9,"a6":2.0,"a7":5.5,"a8":4.5,"a9":6.0,"a10":4.3,"b1":1.9,"b2":2.0,"b3":2.0,"b4":2.0,"b5":4.0,"b6":3.3,"b7":2.5,"b8":1.9,"b9":2.7,"b10":4.2},
{"t":4.125,"a1":3.0,"a2":4.5,"a3":3.9,"a4":3.9,"a5":1.9,"a6":1.9,"a7":5.0,"a8":4.4,"a9":4.8,"a10":4.1,"b1":2.0,"b2":1.9,"b3":2.0,"b4":2.0,"b5":4.1,"b6":2.6,"b7":3.6,"b8":2.1,"b9":3.2,"b10":4.1},
{"t":4.375,"a1":3.6,"a2":4.3,"a3":2.8,"a4":4.4,"a5":2.0,"a6":2.0,"a7":5.4,"a8":4.3,"a9":5.6,"a10":4.2,"b1":2.1,"b2":2.0,"b3":4.4,"b4":2.1,"b5":2.0,"b6":3.1,"b7":3.8,"b8":2.0,"b9":2.8,"b10":4.2},
{"t":4.625,"a1":3.3,"a2":4.5,"a3":3.8,"a4":3.7,"a5":1.9,"a6":1.8,"a7":5.7,"a8":4.5,"a9":5.1,"a10":4.0,"b1":1.9,"b2":2.0,"b3":4.6,"b4":2.0,"b5":3.8,"b6":2.9,"b7":2.4,"b8":2.0,"b9":2.7,"b10":4.3},
{"t":4.875,"a1":2.0,"a2":3.2,"a3":3.0,"a4":3.9,"a5":1.9,"a6":1.9,"a7":5.2,"a8":4.4,"a9":5.3,"a10":4.2,"b1":2.0,"b2":2.0,"b3":1.9,"b4":1.9,"b5":4.1,"b6":2.7,"b7":3.4,"b8":2.2,"b9":3.0,"b10":4.1},
{"t":5.125,"a1":1.8,"a2":2.7,"a3":3.6,"a4":3.8,"a5":2.0,"a6":2.0,"a7":5.4,"a8":4.3,"a9":6.0,"a10":4.0,"b1":2.0,"b2":2.0,"b3":2.0,"b4":2.0,"b5":3.9,"b6":3.0,"b7":2.0,"b8":1.9,"b9":2.5,"b10":4.2},
{"t":5.375,"a1":2.0,"a2":3.0,"a3":3.2,"a4":4.1,"a5":1.9,"a6":1.9,"a7":5.0,"a8":4.5,"a9":5.0,"a10":4.2,"b1":2.0,"b2":1.9,"b3":1.9,"b4":2.1,"b5":4.1,"b6":2.8,"b7":3.7,"b8":2.1,"b9":2.7,"b10":4.1},
{"t":5.625,"a1":2.0,"a2":3.0,"a3":4.0,"a4":3.9,"a5":1.9,"a6":2.0,"a7":5.3,"a8":4.4,"a9":5.7,"a10":4.1,"b1":2.1,"b2":2.0,"b3":2.0,"b4":1.9,"b5":4.0,"b6":3.1,"b7":2.2,"b8":2.0,"b9":2.4,"b10":4.2},
{"t":5.875,"a1":2.8,"a2":5.0,"a3":3.3,"a4":3.6,"a5":2.0,"a6":2.0,"a7":5.6,"a8":4.3,"a9":6.2,"a10":4.3,"b1":2.0,"b2":2.1,"b3":1.9,"b4":2.0,"b5":3.9,"b6":2.5,"b7":3.5,"b8":2.0,"b9":2.7,"b10":4.3},
{"t":6.125,"a1":3.0,"a2":4.6,"a3":3.4,"a4":4.0,"a5":2.0,"a6":2.1,"a7":5.0,"a8":4.5,"a9":5.0,"a10":4.2,"b1":2.0,"b2":1.9,"b3":2.0,"b4":1.9,"b5":4.2,"b6":3.2,"b7":3.3,"b8":2.2,"b9":2.5,"b10":4.1},
{"t":6.375,"a1":2.6,"a2":2.9,"a3":4.0,"a4":3.5,"a5":4.0,"a6":2.0,"a7":5.5,"a8":4.3,"a9":5.6,"a10":4.1,"b1":2.0,"b2":2.0,"b3":1.9,"b4":2.0,"b5":4.0,"b6":2.8,"b7":2.3,"b8":1.9,"b9":2.8,"b10":4.3},
{"t":6.625,"a1":3.3,"a2":4.7,"a3":3.2,"a4":4.4,"a5":4.3,"a6":1.9,"a7":5.1,"a8":4.2,"a9":4.7,"a10":4.3,"b1":1.9,"b2":2.0,"b3":2.0,"b4":2.0,"b5":3.8,"b6":3.3,"b7":3.6,"b8":2.1,"b9":2.3,"b10":4.2},
{"t":6.875,"a1":2.3,"a2":4.8,"a3":4.4,"a4":3.0,"a5":4.0,"a6":2.0,"a7":5.6,"a8":4.5,"a9":5.9,"a10":4.1,"b1":2.1,"b2":2.0,"b3":2.0,"b4":2.0,"b5":2.0,"b6":3.8,"b7":3.7,"b8":2.0,"b9":2.9,"b10":4.3},
{"t":7.125,"a1":3.1,"a2":4.5,"a3":3.7,"a4":4.2,"a5":4.2,"a6":1.9,"a7":5.0,"a8":4.4,"a9":5.3,"a10":4.3,"b1":2.0,"b2":2.0,"b3":1.9,"b4":2.1,"b5":4.3,"b6":4.0,"b7":2.2,"b8":2.0,"b9":2.5,"b10":4.2},
{"t":7.375,"a1":2.8,"a2":5.0,"a3":4.1,"a4":3.8,"a5":2.0,"a6":1.9,"a7":5.4,"a8":4.3,"a9":5.0,"a10":4.2,"b1":1.9,"b2":1.9,"b3":2.0,"b4":2.0,"b5":4.6,"b6":2.0,"b7":3.8,"b8":2.2,"b9":2.6,"b10":4.1},
{"t":7.625,"a1":3.4,"a2":3.0,"a3":3.2,"a4":4.5,"a5":1.9,"a6":2.0,"a7":4.7,"a8":4.5,"a9":6.0,"a10":4.1,"b1":2.1,"b2":2.0,"b3":1.9,"b4":1.9,"b5":4.3,"b6":2.0,"b7":3.3,"b8":1.9,"b9":2.4,"b10":4.3},
{"t":7.875,"a1":2.5,"a2":4.7,"a3":4.5,"a4":3.8,"a5":2.0,"a6":1.9,"a7":4.9,"a8":4.3,"a9":4.7,"a10":4.2,"b1":2.0,"b2":2.1,"b3":1.9,"b4":2.0,"b5":2.0,"b6":2.8,"b7":2.0,"b8":2.1,"b9":2.8,"b10":4.2},
{"t":8.125,"a1":3.0,"a2":5.0,"a3":3.7,"a4":4.0,"a5":4.4,"a6":2.0,"a7":9.0,"a8":4.2,"a9":5.9,"a10":4.1,"b1":1.9,"b2":2.0,"b3":2.0,"b4":2.1,"b5":2.0,"b6":3.3,"b7":2.0,"b8":2.0,"b9":2.5,"b10":4.3},
{"t":8.375,"a1":2.7,"a2":4.4,"a3":4.2,"a4":4.4,"a5":4.2,"a6":1.9,"a7":9.4,"a8":4.5,"a9":5.2,"a10":4.3,"b1":2.1,"b2":2.1,"b3":1.9,"b4":2.0,"b5":1.9,"b6":2.9,"b7":2.1,"b8":2.0,"b9":2.8,"b10":4.1},
{"t":8.625,"a1":2.9,"a2":2.9,"a3":3.8,"a4":3.6,"a5":4.0,"a6":2.0,"a7":9.3,"a8":4.4,"a9":5.6,"a10":4.2,"b1":2.0,"b2":1.9,"b3":2.0,"b4":2.0,"b5":2.0,"b6":2.6,"b7":1.9,"b8":2.2,"b9":2.6,"b10":4.2},
{"t":8.875,"a1":3.4,"a2":4.8,"a3":4.3,"a4":4.2,"a5":4.5,"a6":1.8,"a7":9.6,"a8":4.3,"a9":4.6,"a10":4.1,"b1":1.9,"b2":2.0,"b3":2.0,"b4":1.9,"b5":2.1,"b6":3.3,"b7":2.0,"b8":1.9,"b9":2.2,"b10":4.0},
{"t":9.125,"a1":2.7,"a2":3.0,"a3":3.2,"a4":4.6,"a5":4.0,"a6":1.9,"a7":9.2,"a8":4.4,"a9":5.0,"a10":4.3,"b1":2.1,"b2":2.0,"b3":1.9,"b4":2.0,"b5":2.0,"b6":2.9,"b7":2.0,"b8":2.1,"b9":2.5,"b10":4.2},
{"t":9.375,"a1":3.1,"a2":5.0,"a3":4.0,"a4":4.2,"a5":4.3,"a6":2.0,"a7":9.4,"a8":4.5,"a9":6.8,"a10":4.0,"b1":2.0,"b2":2.0,"b3":2.0,"b4":2.0,"b5":2.0,"b6":3.1,"b7":1.9,"b8":2.2,"b9":5.7,"b10":4.2},
{"t":9.625,"a1":2.7,"a2":3.0,"a3":3.6,"a4":4.1,"a5":4.2,"a6":1.9,"a7":9.0,"a8":9.5,"a9":5.5,"a10":4.1,"b1":1.9,"b2":2.1,"b3":2.0,"b4":2.1,"b5":1.9,"b6":2.8,"b7":2.0,"b8":2.0,"b9":6.3,"b10":4.3},
{"t":9.875,"a1":3.3,"a2":4.6,"a3":3.9,"a4":4.5,"a5":4.4,"a6":2.0,"a7":9.5,"a8":8.6,"a9":5.0,"a10":4.2,"b1":2.1,"b2":1.9,"b3":2.0,"b4":2.0,"b5":2.0,"b6":3.4,"b7":2.1,"b8":1.9,"b9":6.9,"b10":4.1},
{"t":10.125,"a1":2.5,"a2":4.9,"a3":4.5,"a4":3.8,"a5":4.0,"a6":2.1,"a7":9.3,"a8":7.8,"a9":6.1,"a10":4.1,"b1":2.0,"b2":2.0,"b3":2.0,"b4":1.9,"b5":2.1,"b6":3.0,"b7":1.9,"b8":2.1,"b9":6.8,"b10":4.2},
{"t":10.375,"a1":2.9,"a2":4.5,"a3":3.4,"a4":4.4,"a5":4.6,"a6":1.9,"a7":9.0,"a8":7.5,"a9":5.3,"a10":4.3,"b1":2.1,"b2":2.1,"b3":4.1,"b4":2.0,"b5":2.0,"b6":3.2,"b7":2.0,"b8":2.0,"b9":5.6,"b10":4.2},
{"t":10.625,"a1":2.6,"a2":5.0,"a3":3.9,"a4":3.3,"a5":4.2,"a6":2.0,"a7":9.7,"a8":9.2,"a9":7.4,"a10":4.2,"b1":2.0,"b2":2.0,"b3":2.0,"b4":2.0,"b5":2.0,"b6":2.9,"b7":2.0,"b8":2.2,"b9":3.5,"b10":2.8},
{"t":10.875,"a1":3.5,"a2":2.8,"a3":4.1,"a4":4.4,"a5":4.4,"a6":1.9,"a7":9.3,"a8":9.8,"a9":6.5,"a10":4.0,"b1":1.9,"b2":2.1,"b3":2.0,"b4":4.3,"b5":2.0,"b6":3.5,"b7":1.9,"b8":2.0,"b9":6.2,"b10":2.8},
{"t":11.125,"a1":2.8,"a2":4.7,"a3":3.5,"a4":4.1,"a5":4.3,"a6":2.0,"a7":9.6,"a8":6.5,"a9":5.0,"a10":4.1,"b1":2.0,"b2":2.0,"b3":2.0,"b4":4.4,"b5":2.0,"b6":2.9,"b7":2.0,"b8":1.9,"b9":6.0,"b10":2.9},
{"t":11.375,"a1":2.4,"a2":2.8,"a3":4.4,"a4":4.6,"a5":4.0,"a6":1.9,"a7":9.0,"a8":4.2,"a9":4.5,"a10":4.2,"b1":2.1,"b2":2.1,"b3":4.2,"b4":2.0,"b5":3.8,"b6":3.3,"b7":4.2,"b8":2.2,"b9":6.4,"b10":2.7},
{"t":11.625,"a1":3.1,"a2":5.0,"a3":3.8,"a4":3.6,"a5":4.5,"a6":2.0,"a7":9.5,"a8":4.4,"a9":6.0,"a10":4.0,"b1":1.9,"b2":1.9,"b3":4.5,"b4":2.1,"b5":6.5,"b6":4.6,"b7":4.5,"b8":2.1,"b9":6.7,"b10":2.8},
{"t":11.875,"a1":2.2,"a2":3.0,"a3":3.1,"a4":4.3,"a5":4.2,"a6":1.8,"a7":9.1,"a8":4.0,"a9":5.4,"a10":4.2,"b1":2.0,"b2":2.0,"b3":4.1,"b4":2.0,"b5":5.4,"b6":2.0,"b7":4.8,"b8":2.3,"b9":5.7,"b10":2.9},
{"t":12.125,"a1":3.3,"a2":4.9,"a3":4.2,"a4":3.6,"a5":4.3,"a6":1.9,"a7":9.3,"a8":5.8,"a9":4.7,"a10":4.1,"b1":2.1,"b2":2.0,"b3":4.4,"b4":1.9,"b5":6.1,"b6":4.5,"b7":5.9,"b8":2.0,"b9":6.2,"b10":2.8},
{"t":12.375,"a1":2.7,"a2":2.9,"a3":3.7,"a4":4.5,"a5":4.6,"a6":2.0,"a7":9.7,"a8":6.0,"a9":5.8,"a10":4.0,"b1":1.9,"b2":2.0,"b3":4.3,"b4":2.0,"b5":6.9,"b6":6.5,"b7":7.0,"b8":2.4,"b9":7.0,"b10":2.8},
{"t":12.625,"a1":3.5,"a2":4.6,"a3":3.0,"a4":4.2,"a5":4.4,"a6":1.8,"a7":9.1,"a8":4.9,"a9":5.5,"a10":4.2,"b1":2.3,"b2":1.9,"b3":2.0,"b4":2.0,"b5":6.0,"b6":5.9,"b7":6.2,"b8":2.2,"b9":6.5,"b10":2.7},
{"t":12.875,"a1":2.2,"a2":4.9,"a3":4.1,"a4":3.8,"a5":4.7,"a6":2.0,"a7":9.6,"a8":6.4,"a9":6.4,"a10":4.0,"b1":2.6,"b2":4.1,"b3":4.1,"b4":4.0,"b5":6.3,"b6":6.6,"b7":5.5,"b8":2.1,"b9":6.6,"b10":4.4},
{"t":13.125,"a1":3.1,"a2":4.5,"a3":3.3,"a4":4.3,"a5":4.4,"a6":1.9,"a7":9.4,"a8":5.6,"a9":5.2,"a10":4.2,"b1":2.9,"b2":3.8,"b3":2.0,"b4":4.8,"b5":6.8,"b6":5.9,"b7":6.5,"b8":2.3,"b9":6.4,"b10":4.2},
{"t":13.375,"a1":2.6,"a2":4.6,"a3":3.6,"a4":4.0,"a5":4.5,"a6":2.0,"a7":9.2,"a8":5.0,"a9":6.2,"a10":4.0,"b1":2.7,"b2":3.9,"b3":2.0,"b4":5.6,"b5":5.5,"b6":5.0,"b7":6.2,"b8":2.4,"b9":7.1,"b10":4.3},
{"t":13.625,"a1":2.9,"a2":3.1,"a3":3.9,"a4":4.6,"a5":4.1,"a6":2.0,"a7":9.0,"a8":5.4,"a9":5.6,"a10":4.1,"b1":2.0,"b2":2.0,"b3":1.9,"b4":5.1,"b5":5.0,"b6":4.8,"b7":6.0,"b8":2.2,"b9":6.1,"b10":4.1},
{"t":13.875,"a1":3.3,"a2":4.7,"a3":3.2,"a4":3.9,"a5":4.3,"a6":1.9,"a7":8.9,"a8":5.6,"a9":4.9,"a10":4.2,"b1":2.0,"b2":2.0,"b3":2.0,"b4":4.9,"b5":5.3,"b6":4.5,"b7":5.0,"b8":2.3,"b9":7.0,"b10":4.2},
{"t":14.125,"a1":2.6,"a2":3.2,"a3":2.2,"a4":4.0,"a5":4.2,"a6":2.0,"a7":6.0,"a8":5.1,"a9":6.0,"a10":4.0,"b1":2.0,"b2":2.0,"b3":4.2,"b4":5.6,"b5":5.6,"b6":5.0,"b7":5.6,"b8":2.4,"b9":6.8,"b10":4.2},
{"t":14.375,"a1":3.2,"a2":4.9,"a3":2.4,"a4":4.3,"a5":4.0,"a6":1.8,"a7":3.6,"a8":5.6,"a9":3.5,"a10":4.1,"b1":2.1,"b2":2.0,"b3":4.4,"b4":4.4,"b5":5.0,"b6":5.6,"b7":5.7,"b8":2.1,"b9":6.6,"b10":4.1},
{"t":14.625,"a1":3.0,"a2":3.5,"a3":2.6,"a4":4.2,"a5":4.3,"a6":1.9,"a7":6.0,"a8":5.0,"a9":4.8,"a10":4.2,"b1":1.9,"b2":2.0,"b3":4.3,"b4":2.0,"b5":4.3,"b6":5.3,"b7":5.8,"b8":2.6,"b9":7.3,"b10":4.3},
{"t":14.875,"a1":2.7,"a2":3.2,"a3":2.2,"a4":4.0,"a5":3.9,"a6":2.0,"a7":9.4,"a8":5.5,"a9":6.5,"a10":4.1,"b1":2.0,"b2":1.9,"b3":4.2,"b4":4.6,"b5":4.8,"b6":4.9,"b7":6.4,"b8":2.2,"b9":6.3,"b10":4.2},
{"t":15.125,"a1":2.5,"a2":3.7,"a3":2.0,"a4":4.0,"a5":4.2,"a6":1.9,"a7":9.1,"a8":5.3,"a9":7.8,"a10":4.2,"b1":2.1,"b2":2.0,"b3":4.1,"b4":2.0,"b5":4.0,"b6":5.5,"b7":5.9,"b8":2.4,"b9":6.5,"b10":4.2},
{"t":15.375,"a1":3.2,"a2":3.3,"a3":2.0,"a4":4.1,"a5":4.0,"a6":2.0,"a7":9.5,"a8":4.6,"a9":6.6,"a10":4.2,"b1":2.0,"b2":2.0,"b3":4.4,"b4":2.0,"b5":4.6,"b6":5.2,"b7":5.4,"b8":2.5,"b9":7.4,"b10":4.1},
{"t":15.625,"a1":2.9,"a2":3.5,"a3":2.0,"a4":4.2,"a5":3.9,"a6":1.9,"a7":9.2,"a8":5.0,"a9":5.0,"a10":4.3,"b1":1.9,"b2":2.0,"b3":4.3,"b4":2.0,"b5":4.3,"b6":5.7,"b7":5.3,"b8":2.3,"b9":6.8,"b10":4.2},
{"t":15.875,"a1":2.8,"a2":3.0,"a3":2.0,"a4":4.0,"a5":4.1,"a6":2.0,"a7":9.4,"a8":5.3,"a9":5.8,"a10":4.3,"b1":2.0,"b2":2.0,"b3":4.1,"b4":2.0,"b5":4.0,"b6":5.0,"b7":5.9,"b8":2.6,"b9":6.6,"b10":4.3},
{"t":16.125,"a1":2.2,"a2":3.3,"a3":2.0,"a4":4.4,"a5":4.0,"a6":2.0,"a7":9.5,"a8":4.9,"a9":5.5,"a10":4.3,"b1":2.0,"b2":2.0,"b3":2.0,"b4":2.0,"b5":4.2,"b6":5.6,"b7":5.3,"b8":2.2,"b9":7.3,"b10":4.3},
{"t":16.375,"a1":2.7,"a2":3.1,"a3":2.0,"a4":3.6,"a5":4.1,"a6":1.9,"a7":9.2,"a8":5.0,"a9":6.3,"a10":4.2,"b1":2.1,"b2":4.4,"b3":4.2,"b4":7.8,"b5":4.0,"b6":5.2,"b7":5.8,"b8":2.5,"b9":6.4,"b10":4.2},
{"t":16.625,"a1":3.1,"a2":3.5,"a3":1.9,"a4":4.2,"a5":4.2,"a6":2.0,"a7":9.6,"a8":4.7,"a9":5.2,"a10":4.2,"b1":2.3,"b2":4.8,"b3":4.2,"b4":7.1,"b5":4.5,"b6":4.9,"b7":6.0,"b8":2.4,"b9":7.0,"b10":4.1},
{"t":16.875,"a1":2.6,"a2":2.9,"a3":2.0,"a4":4.0,"a5":3.9,"a6":1.9,"a7":9.3,"a8":4.3,"a9":6.1,"a10":4.2,"b1":3.2,"b2":4.2,"b3":4.1,"b4":7.8,"b5":3.7,"b6":5.8,"b7":5.0,"b8":2.3,"b9":6.5,"b10":4.3},
{"t":17.125,"a1":2.8,"a2":3.3,"a3":1.9,"a4":4.5,"a5":4.1,"a6":1.9,"a7":8.8,"a8":3.0,"a9":5.0,"a10":4.0,"b1":2.8,"b2":4.3,"b3":2.0,"b4":7.5,"b5":4.3,"b6":5.3,"b7":5.4,"b8":2.7,"b9":7.5,"b10":4.3},
{"t":17.375,"a1":2.3,"a2":3.6,"a3":2.0,"a4":3.9,"a5":4.2,"a6":2.0,"a7":8.1,"a8":4.2,"a9":5.7,"a10":4.1,"b1":2.6,"b2":4.0,"b3":1.9,"b4":2.1,"b5":3.9,"b6":5.6,"b7":5.1,"b8":2.4,"b9":7.2,"b10":4.2},
{"t":17.625,"a1":2.9,"a2":3.1,"a3":3.8,"a4":4.2,"a5":2.0,"a6":1.9,"a7":7.2,"a8":4.4,"a9":5.4,"a10":4.2,"b1":2.9,"b2":4.6,"b3":4.0,"b4":5.8,"b5":4.0,"b6":5.0,"b7":5.7,"b8":2.6,"b9":7.0,"b10":4.1},
{"t":17.875,"a1":2.7,"a2":3.2,"a3":4.1,"a4":4.0,"a5":1.9,"a6":1.9,"a7":6.2,"a8":4.0,"a9":5.2,"a10":4.1,"b1":2.5,"b2":4.3,"b3":3.9,"b4":7.9,"b5":4.4,"b6":5.8,"b7":5.6,"b8":2.3,"b9":7.6,"b10":4.2},
{"t":18.125,"a1":2.9,"a2":4.9,"a3":4.0,"a4":3.8,"a5":2.0,"a6":2.0,"a7":5.0,"a8":4.2,"a9":5.6,"a10":4.1,"b1":2.9,"b2":4.4,"b3":4.2,"b4":8.2,"b5":4.0,"b6":6.0,"b7":5.5,"b8":2.5,"b9":8.0,"b10":4.2},
{"t":18.375,"a1":3.3,"a2":4.6,"a3":4.2,"a4":4.5,"a5":2.0,"a6":1.9,"a7":3.2,"a8":3.9,"a9":5.0,"a10":4.2,"b1":2.7,"b2":4.7,"b3":4.0,"b4":8.7,"b5":8.8,"b6":5.0,"b7":4.9,"b8":2.6,"b9":9.8,"b10":4.1},
{"t":18.625,"a1":2.8,"a2":5.0,"a3":3.5,"a4":4.1,"a5":1.9,"a6":2.0,"a7":4.0,"a8":2.0,"a9":5.4,"a10":4.2,"b1":3.3,"b2":4.2,"b3":3.8,"b4":8.2,"b5":9.5,"b6":5.3,"b7":5.0,"b8":2.4,"b9":8.8,"b10":4.3},
{"t":18.875,"a1":3.1,"a2":4.6,"a3":4.0,"a4":4.4,"a5":2.0,"a6":2.0,"a7":4.4,"a8":2.0,"a9":5.6,"a10":4.2,"b1":2.6,"b2":4.5,"b3":4.2,"b4":8.4,"b5":9.0,"b6":5.4,"b7":4.6,"b8":2.7,"b9":9.0,"b10":4.1},
{"t":19.125,"a1":2.7,"a2":5.0,"a3":4.4,"a4":4.0,"a5":2.0,"a6":1.9,"a7":5.5,"a8":1.9,"a9":5.0,"a10":4.0,"b1":3.1,"b2":4.0,"b3":1.9,"b4":2.0,"b5":9.3,"b6":5.0,"b7":5.3,"b8":2.3,"b9":11,"b10":4.4},
{"t":19.375,"a1":3.4,"a2":4.7,"a3":3.9,"a4":4.3,"a5":2.0,"a6":2.0,"a7":7.9,"a8":4.9,"a9":6.6,"a10":4.1,"b1":2.7,"b2":4.6,"b3":5.3,"b4":3.9,"b5":9.2,"b6":5.4,"b7":4.8,"b8":2.5,"b9":11,"b10":4.3},
{"t":19.625,"a1":2.6,"a2":5.2,"a3":4.3,"a4":4.8,"a5":2.0,"a6":1.9,"a7":9.3,"a8":5.4,"a9":5.4,"a10":4.1,"b1":3.3,"b2":4.4,"b3":5.8,"b4":3.7,"b5":8.7,"b6":4.9,"b7":4.3,"b8":2.4,"b9":11,"b10":4.3},
{"t":19.875,"a1":2.8,"a2":4.9,"a3":4.5,"a4":4.4,"a5":2.0,"a6":2.0,"a7":9.7,"a8":5.0,"a9":6.2,"a10":3.1,"b1":3.5,"b2":4.8,"b3":5.5,"b4":3.8,"b5":9.5,"b6":5.3,"b7":4.5,"b8":2.7,"b9":11,"b10":4.4}
]},
"spacing":18,
"hconcat":[
{"spacing":0,"bounds":"flush","vconcat":[
{"width":286,"height":57.4,"layer":[
{"mark":{"type":"line","color":"black","strokeWidth":1.2,"clip":true},"encoding":{"x":{"field":"t","type":"quantitative","scale":{"domain":[0,20],"nice":false},"axis":{"orient":"bottom","labels":false,"title":null,"tickSize":{"condition":{"test":"datum.value % 2 === 0","value":-6},"value":-3}}},"y":{"field":"a1","type":"quantitative","scale":{"domain":[0,10],"nice":false},"axis":{"orient":"left","title":null,"labelExpr":"datum.value % 5 === 0 ? datum.label : ''","tickSize":{"condition":{"test":"datum.value % 5 === 0","value":-6},"value":-3}}}}},
{"data":{"values":[{}]},"mark":{"type":"text","text":"O"},"encoding":{"x":{"datum":0.56,"type":"quantitative","axis":{"orient":"top","labels":false,"title":null,"tickSize":{"condition":{"test":"datum.value % 2 === 0","value":-6},"value":-3}}},"y":{"datum":6.3,"type":"quantitative","axis":{"orient":"right","labels":false,"title":null,"tickSize":{"condition":{"test":"datum.value % 5 === 0","value":-6},"value":-3}}}}},
{"data":{"values":[{}]},"mark":{"type":"text","text":"δ1","fontSize":8,"dx":8.7,"dy":3.5},"encoding":{"x":{"datum":0.56,"type":"quantitative","axis":null},"y":{"datum":6.3,"type":"quantitative","axis":null}}},
{"data":{"values":[{}]},"mark":{"type":"text","text":"(Asp85) : H16(Lyr216)","dx":16},"encoding":{"x":{"datum":0.56,"type":"quantitative","axis":null},"y":{"datum":6.3,"type":"quantitative","axis":null}}},
{"data":{"values":[{}]},"mark":{"type":"text","text":"(a) Dark-adapted","fontSize":18,"align":"center"},"encoding":{"x":{"datum":8.95,"type":"quantitative","axis":null},"y":{"datum":13.5,"type":"quantitative","axis":null}}}
]},
{"width":286,"height":57.4,"layer":[
{"mark":{"type":"line","color":"black","strokeWidth":1.2,"clip":true},"encoding":{"x":{"field":"t","type":"quantitative","scale":{"domain":[0,20],"nice":false},"axis":{"orient":"bottom","labels":false,"title":null,"tickSize":{"condition":{"test":"datum.value % 2 === 0","value":-6},"value":-3}}},"y":{"field":"a2","type":"quantitative","scale":{"domain":[0,10],"nice":false},"axis":{"orient":"left","title":null,"labelExpr":"datum.value === 0 || datum.value === 5 ? datum.label : ''","tickSize":{"condition":{"test":"datum.value % 5 === 0","value":-6},"value":-3}}}}},
{"data":{"values":[{}]},"mark":{"type":"text","text":"O"},"encoding":{"x":{"datum":0.56,"type":"quantitative","axis":{"orient":"top","labels":false,"title":null,"tickSize":{"condition":{"test":"datum.value % 2 === 0","value":-6},"value":-3}}},"y":{"datum":6.7,"type":"quantitative","axis":{"orient":"right","labels":false,"title":null,"tickSize":{"condition":{"test":"datum.value % 5 === 0","value":-6},"value":-3}}}}},
{"data":{"values":[{}]},"mark":{"type":"text","text":"δ1","fontSize":8,"dx":8.7,"dy":3.5},"encoding":{"x":{"datum":0.56,"type":"quantitative","axis":null},"y":{"datum":6.7,"type":"quantitative","axis":null}}},
{"data":{"values":[{}]},"mark":{"type":"text","text":"(Asp85) : HD1(Trp86)","dx":16},"encoding":{"x":{"datum":0.56,"type":"quantitative","axis":null},"y":{"datum":6.7,"type":"quantitative","axis":null}}}
]},
{"width":286,"height":57.4,"layer":[
{"mark":{"type":"line","color":"black","strokeWidth":1.2,"clip":true},"encoding":{"x":{"field":"t","type":"quantitative","scale":{"domain":[0,20],"nice":false},"axis":{"orient":"bottom","labels":false,"title":null,"tickSize":{"condition":{"test":"datum.value % 2 === 0","value":-6},"value":-3}}},"y":{"field":"a3","type":"quantitative","scale":{"domain":[0,10],"nice":false},"axis":{"orient":"left","title":null,"labelExpr":"datum.value === 0 || datum.value === 5 ? datum.label : ''","tickSize":{"condition":{"test":"datum.value % 5 === 0","value":-6},"value":-3}}}}},
{"data":{"values":[{}]},"mark":{"type":"text","text":"O"},"encoding":{"x":{"datum":0.56,"type":"quantitative","axis":{"orient":"top","labels":false,"title":null,"tickSize":{"condition":{"test":"datum.value % 2 === 0","value":-6},"value":-3}}},"y":{"datum":6.8,"type":"quantitative","axis":{"orient":"right","labels":false,"title":null,"tickSize":{"condition":{"test":"datum.value % 5 === 0","value":-6},"value":-3}}}}},
{"data":{"values":[{}]},"mark":{"type":"text","text":"δ1","fontSize":8,"dx":8.7,"dy":3.5},"encoding":{"x":{"datum":0.56,"type":"quantitative","axis":null},"y":{"datum":6.8,"type":"quantitative","axis":null}}},
{"data":{"values":[{}]},"mark":{"type":"text","text":"(Asp85) : HG1(Thr89)","dx":16},"encoding":{"x":{"datum":0.56,"type":"quantitative","axis":null},"y":{"datum":6.8,"type":"quantitative","axis":null}}}
]},
{"width":286,"height":57.4,"layer":[
{"mark":{"type":"line","color":"black","strokeWidth":1.2,"clip":true},"encoding":{"x":{"field":"t","type":"quantitative","scale":{"domain":[0,20],"nice":false},"axis":{"orient":"bottom","labels":false,"title":null,"tickSize":{"condition":{"test":"datum.value % 2 === 0","value":-6},"value":-3}}},"y":{"field":"a4","type":"quantitative","scale":{"domain":[0,10],"nice":false},"axis":{"orient":"left","title":null,"labelExpr":"datum.value === 0 || datum.value === 5 ? datum.label : ''","tickSize":{"condition":{"test":"datum.value % 5 === 0","value":-6},"value":-3}}}}},
{"data":{"values":[{}]},"mark":{"type":"text","text":"O"},"encoding":{"x":{"datum":0.56,"type":"quantitative","axis":{"orient":"top","labels":false,"title":null,"tickSize":{"condition":{"test":"datum.value % 2 === 0","value":-6},"value":-3}}},"y":{"datum":6.95,"type":"quantitative","axis":{"orient":"right","labels":false,"title":null,"tickSize":{"condition":{"test":"datum.value % 5 === 0","value":-6},"value":-3}}}}},
{"data":{"values":[{}]},"mark":{"type":"text","text":"δ2","fontSize":8,"dx":8.7,"dy":3.5},"encoding":{"x":{"datum":0.56,"type":"quantitative","axis":null},"y":{"datum":6.95,"type":"quantitative","axis":null}}},
{"data":{"values":[{}]},"mark":{"type":"text","text":"(Asp85) : HG1(Thr89)","dx":16},"encoding":{"x":{"datum":0.56,"type":"quantitative","axis":null},"y":{"datum":6.95,"type":"quantitative","axis":null}}}
]},
{"width":286,"height":57.4,"layer":[
{"mark":{"type":"line","color":"black","strokeWidth":1.2,"clip":true},"encoding":{"x":{"field":"t","type":"quantitative","scale":{"domain":[0,20],"nice":false},"axis":{"orient":"bottom","labels":false,"title":null,"tickSize":{"condition":{"test":"datum.value % 2 === 0","value":-6},"value":-3}}},"y":{"field":"a5","type":"quantitative","scale":{"domain":[0,10],"nice":false},"axis":{"orient":"left","title":"Distance (Å)","titleX":-44,"titleY":57.4,"titleBaseline":"middle","labelExpr":"datum.value === 0 || datum.value === 5 ? datum.label : ''","tickSize":{"condition":{"test":"datum.value % 5 === 0","value":-6},"value":-3}}}}},
{"data":{"values":[{}]},"mark":{"type":"text","text":"O"},"encoding":{"x":{"datum":0.56,"type":"quantitative","axis":{"orient":"top","labels":false,"title":null,"tickSize":{"condition":{"test":"datum.value % 2 === 0","value":-6},"value":-3}}},"y":{"datum":6.5,"type":"quantitative","axis":{"orient":"right","labels":false,"title":null,"tickSize":{"condition":{"test":"datum.value % 5 === 0","value":-6},"value":-3}}}}},
{"data":{"values":[{}]},"mark":{"type":"text","text":"δ1","fontSize":8,"dx":8.7,"dy":3.5},"encoding":{"x":{"datum":0.56,"type":"quantitative","axis":null},"y":{"datum":6.5,"type":"quantitative","axis":null}}},
{"data":{"values":[{}]},"mark":{"type":"text","text":"(Asp212) : HH(Tyr185)","dx":16},"encoding":{"x":{"datum":0.56,"type":"quantitative","axis":null},"y":{"datum":6.5,"type":"quantitative","axis":null}}}
]},
{"width":286,"height":57.4,"layer":[
{"mark":{"type":"line","color":"black","strokeWidth":1.2,"clip":true},"encoding":{"x":{"field":"t","type":"quantitative","scale":{"domain":[0,20],"nice":false},"axis":{"orient":"bottom","labels":false,"title":null,"tickSize":{"condition":{"test":"datum.value % 2 === 0","value":-6},"value":-3}}},"y":{"field":"a6","type":"quantitative","scale":{"domain":[0,10],"nice":false},"axis":{"orient":"left","title":null,"labelExpr":"datum.value === 0 || datum.value === 5 ? datum.label : ''","tickSize":{"condition":{"test":"datum.value % 5 === 0","value":-6},"value":-3}}}}},
{"data":{"values":[{}]},"mark":{"type":"text","text":"O"},"encoding":{"x":{"datum":0.56,"type":"quantitative","axis":{"orient":"top","labels":false,"title":null,"tickSize":{"condition":{"test":"datum.value % 2 === 0","value":-6},"value":-3}}},"y":{"datum":6.3,"type":"quantitative","axis":{"orient":"right","labels":false,"title":null,"tickSize":{"condition":{"test":"datum.value % 5 === 0","value":-6},"value":-3}}}}},
{"data":{"values":[{}]},"mark":{"type":"text","text":"δ2","fontSize":8,"dx":8.7,"dy":3.5},"encoding":{"x":{"datum":0.56,"type":"quantitative","axis":null},"y":{"datum":6.3,"type":"quantitative","axis":null}}},
{"data":{"values":[{}]},"mark":{"type":"text","text":"(Asp212) : HH(Tyr57)","dx":16},"encoding":{"x":{"datum":0.56,"type":"quantitative","axis":null},"y":{"datum":6.3,"type":"quantitative","axis":null}}}
]},
{"width":286,"height":57.4,"layer":[
{"mark":{"type":"line","color":"black","strokeWidth":1.2,"clip":true},"encoding":{"x":{"field":"t","type":"quantitative","scale":{"domain":[0,20],"nice":false},"axis":{"orient":"bottom","labels":false,"title":null,"tickSize":{"condition":{"test":"datum.value % 2 === 0","value":-6},"value":-3}}},"y":{"field":"a7","type":"quantitative","scale":{"domain":[0,10],"nice":false},"axis":{"orient":"left","title":null,"labelExpr":"datum.value === 0 || datum.value === 5 ? datum.label : ''","tickSize":{"condition":{"test":"datum.value % 5 === 0","value":-6},"value":-3}}}}},
{"data":{"values":[{}]},"mark":{"type":"text","text":"OE1(Glu194) : HH21(Arg82)"},"encoding":{"x":{"datum":3.59,"type":"quantitative","axis":{"orient":"top","labels":false,"title":null,"tickSize":{"condition":{"test":"datum.value % 2 === 0","value":-6},"value":-3}}},"y":{"datum":1.83,"type":"quantitative","axis":{"orient":"right","labels":false,"title":null,"tickSize":{"condition":{"test":"datum.value % 5 === 0","value":-6},"value":-3}}}}}
]},
{"width":286,"height":57.4,"layer":[
{"mark":{"type":"line","color":"black","strokeWidth":1.2,"clip":true},"encoding":{"x":{"field":"t","type":"quantitative","scale":{"domain":[0,20],"nice":false},"axis":{"orient":"bottom","labels":false,"title":null,"tickSize":{"condition":{"test":"datum.value % 2 === 0","value":-6},"value":-3}}},"y":{"field":"a8","type":"quantitative","scale":{"domain":[0,10],"nice":false},"axis":{"orient":"left","title":null,"labelExpr":"datum.value === 0 || datum.value === 5 ? datum.label : ''","tickSize":{"condition":{"test":"datum.value % 5 === 0","value":-6},"value":-3}}}}},
{"data":{"values":[{}]},"mark":{"type":"text","text":"OE1(Glu194) : HH(Tyr83)"},"encoding":{"x":{"datum":0.33,"type":"quantitative","axis":{"orient":"top","labels":false,"title":null,"tickSize":{"condition":{"test":"datum.value % 2 === 0","value":-6},"value":-3}}},"y":{"datum":6.6,"type":"quantitative","axis":{"orient":"right","labels":false,"title":null,"tickSize":{"condition":{"test":"datum.value % 5 === 0","value":-6},"value":-3}}}}}
]},
{"width":286,"height":57.4,"layer":[
{"mark":{"type":"line","color":"black","strokeWidth":1.2,"clip":true},"encoding":{"x":{"field":"t","type":"quantitative","scale":{"domain":[0,20],"nice":false},"axis":{"orient":"bottom","labels":false,"title":null,"tickSize":{"condition":{"test":"datum.value % 2 === 0","value":-6},"value":-3}}},"y":{"field":"a9","type":"quantitative","scale":{"domain":[0,10],"nice":false},"axis":{"orient":"left","title":null,"labelExpr":"datum.value === 0 || datum.value === 5 ? datum.label : ''","tickSize":{"condition":{"test":"datum.value % 5 === 0","value":-6},"value":-3}}}}},
{"data":{"values":[{}]},"mark":{"type":"text","text":"OE2(Glu194) : HD1(Ile78)"},"encoding":{"x":{"datum":0.68,"type":"quantitative","axis":{"orient":"top","labels":false,"title":null,"tickSize":{"condition":{"test":"datum.value % 2 === 0","value":-6},"value":-3}}},"y":{"datum":8.2,"type":"quantitative","axis":{"orient":"right","labels":false,"title":null,"tickSize":{"condition":{"test":"datum.value % 5 === 0","value":-6},"value":-3}}}}}
]},
{"width":286,"height":57.4,"layer":[
{"mark":{"type":"line","color":"black","strokeWidth":1.2,"clip":true},"encoding":{"x":{"field":"t","type":"quantitative","scale":{"domain":[0,20],"nice":false},"axis":{"orient":"bottom","title":null,"format":"d","labelExpr":"datum.value % 2 === 0 ? datum.label : ''","tickSize":{"condition":{"test":"datum.value % 2 === 0","value":-6},"value":-3}}},"y":{"field":"a10","type":"quantitative","scale":{"domain":[0,10],"nice":false},"axis":{"orient":"left","title":null,"labelExpr":"datum.value === 0 || datum.value === 5 ? datum.label : ''","tickSize":{"condition":{"test":"datum.value % 5 === 0","value":-6},"value":-3}}}}},
{"data":{"values":[{}]},"mark":{"type":"text","text":"H4B(Lyr216) : OG(Ser141)"},"encoding":{"x":{"datum":0.84,"type":"quantitative","axis":{"orient":"top","labels":false,"title":null,"tickSize":{"condition":{"test":"datum.value % 2 === 0","value":-6},"value":-3}}},"y":{"datum":6.6,"type":"quantitative","axis":{"orient":"right","labels":false,"title":null,"tickSize":{"condition":{"test":"datum.value % 5 === 0","value":-6},"value":-3}}}}},
{"data":{"values":[{}]},"mark":{"type":"text","text":"t","fontSize":18,"fontStyle":"italic","align":"right","baseline":"middle","dx":-2},"encoding":{"x":{"datum":9.2,"type":"quantitative","axis":null},"y":{"datum":-6.6,"type":"quantitative","axis":null}}},
{"data":{"values":[{}]},"mark":{"type":"text","text":"(ns)","fontSize":18,"align":"left","baseline":"middle","dx":3},"encoding":{"x":{"datum":9.2,"type":"quantitative","axis":null},"y":{"datum":-6.6,"type":"quantitative","axis":null}}}
]}
]},
{"spacing":0,"bounds":"flush","vconcat":[
{"width":286,"height":57.4,"layer":[
{"mark":{"type":"line","color":"black","strokeWidth":1.2,"clip":true},"encoding":{"x":{"field":"t","type":"quantitative","scale":{"domain":[0,20],"nice":false},"axis":{"orient":"bottom","labels":false,"title":null,"tickSize":{"condition":{"test":"datum.value % 2 === 0","value":-6},"value":-3}}},"y":{"field":"b1","type":"quantitative","scale":{"domain":[0,10],"nice":false},"axis":{"orient":"left","title":null,"labelExpr":"datum.value % 5 === 0 ? datum.label : ''","tickSize":{"condition":{"test":"datum.value % 5 === 0","value":-6},"value":-3}}}}},
{"data":{"values":[{}]},"mark":{"type":"text","text":"O"},"encoding":{"x":{"datum":1.02,"type":"quantitative","axis":{"orient":"top","labels":false,"title":null,"tickSize":{"condition":{"test":"datum.value % 2 === 0","value":-6},"value":-3}}},"y":{"datum":5.0,"type":"quantitative","axis":{"orient":"right","labels":false,"title":null,"tickSize":{"condition":{"test":"datum.value % 5 === 0","value":-6},"value":-3}}}}},
{"data":{"values":[{}]},"mark":{"type":"text","text":"δ1","fontSize":8,"dx":8.7,"dy":3.5},"encoding":{"x":{"datum":1.02,"type":"quantitative","axis":null},"y":{"datum":5.0,"type":"quantitative","axis":null}}},
{"data":{"values":[{}]},"mark":{"type":"text","text":"(Asp85) : H16(Lyr216)","dx":16},"encoding":{"x":{"datum":1.02,"type":"quantitative","axis":null},"y":{"datum":5.0,"type":"quantitative","axis":null}}},
{"data":{"values":[{}]},"mark":{"type":"text","text":"(b) M","fontSize":18,"align":"right"},"encoding":{"x":{"datum":7.78,"type":"quantitative","axis":null},"y":{"datum":13.5,"type":"quantitative","axis":null}}},
{"data":{"values":[{}]},"mark":{"type":"text","text":"O","fontSize":12,"dx":0.5,"dy":4.5},"encoding":{"x":{"datum":7.78,"type":"quantitative","axis":null},"y":{"datum":13.5,"type":"quantitative","axis":null}}},
{"data":{"values":[{}]},"mark":{"type":"text","text":"intermediate","fontSize":18,"dx":12},"encoding":{"x":{"datum":7.78,"type":"quantitative","axis":null},"y":{"datum":13.5,"type":"quantitative","axis":null}}}
]},
{"width":286,"height":57.4,"layer":[
{"mark":{"type":"line","color":"black","strokeWidth":1.2,"clip":true},"encoding":{"x":{"field":"t","type":"quantitative","scale":{"domain":[0,20],"nice":false},"axis":{"orient":"bottom","labels":false,"title":null,"tickSize":{"condition":{"test":"datum.value % 2 === 0","value":-6},"value":-3}}},"y":{"field":"b2","type":"quantitative","scale":{"domain":[0,10],"nice":false},"axis":{"orient":"left","title":null,"labelExpr":"datum.value === 0 || datum.value === 5 ? datum.label : ''","tickSize":{"condition":{"test":"datum.value % 5 === 0","value":-6},"value":-3}}}}},
{"data":{"values":[{}]},"mark":{"type":"text","text":"O"},"encoding":{"x":{"datum":1.02,"type":"quantitative","axis":{"orient":"top","labels":false,"title":null,"tickSize":{"condition":{"test":"datum.value % 2 === 0","value":-6},"value":-3}}},"y":{"datum":6.2,"type":"quantitative","axis":{"orient":"right","labels":false,"title":null,"tickSize":{"condition":{"test":"datum.value % 5 === 0","value":-6},"value":-3}}}}},
{"data":{"values":[{}]},"mark":{"type":"text","text":"δ2","fontSize":8,"dx":8.7,"dy":3.5},"encoding":{"x":{"datum":1.02,"type":"quantitative","axis":null},"y":{"datum":6.2,"type":"quantitative","axis":null}}},
{"data":{"values":[{}]},"mark":{"type":"text","text":"(Asp85) : HG1(Thr89)","dx":16},"encoding":{"x":{"datum":1.02,"type":"quantitative","axis":null},"y":{"datum":6.2,"type":"quantitative","axis":null}}}
]},
{"width":286,"height":57.4,"layer":[
{"mark":{"type":"line","color":"black","strokeWidth":1.2,"clip":true},"encoding":{"x":{"field":"t","type":"quantitative","scale":{"domain":[0,20],"nice":false},"axis":{"orient":"bottom","labels":false,"title":null,"tickSize":{"condition":{"test":"datum.value % 2 === 0","value":-6},"value":-3}}},"y":{"field":"b3","type":"quantitative","scale":{"domain":[0,10],"nice":false},"axis":{"orient":"left","title":null,"labelExpr":"datum.value === 0 || datum.value === 5 ? datum.label : ''","tickSize":{"condition":{"test":"datum.value % 5 === 0","value":-6},"value":-3}}}}},
{"data":{"values":[{}]},"mark":{"type":"text","text":"O"},"encoding":{"x":{"datum":1.02,"type":"quantitative","axis":{"orient":"top","labels":false,"title":null,"tickSize":{"condition":{"test":"datum.value % 2 === 0","value":-6},"value":-3}}},"y":{"datum":6.25,"type":"quantitative","axis":{"orient":"right","labels":false,"title":null,"tickSize":{"condition":{"test":"datum.value % 5 === 0","value":-6},"value":-3}}}}},
{"data":{"values":[{}]},"mark":{"type":"text","text":"δ1","fontSize":8,"dx":8.7,"dy":3.5},"encoding":{"x":{"datum":1.02,"type":"quantitative","axis":null},"y":{"datum":6.25,"type":"quantitative","axis":null}}},
{"data":{"values":[{}]},"mark":{"type":"text","text":"(Asp212) : HH(Tyr185)","dx":16},"encoding":{"x":{"datum":1.02,"type":"quantitative","axis":null},"y":{"datum":6.25,"type":"quantitative","axis":null}}}
]},
{"width":286,"height":57.4,"layer":[
{"mark":{"type":"line","color":"black","strokeWidth":1.2,"clip":true},"encoding":{"x":{"field":"t","type":"quantitative","scale":{"domain":[0,20],"nice":false},"axis":{"orient":"bottom","labels":false,"title":null,"tickSize":{"condition":{"test":"datum.value % 2 === 0","value":-6},"value":-3}}},"y":{"field":"b4","type":"quantitative","scale":{"domain":[0,10],"nice":false},"axis":{"orient":"left","title":null,"labelExpr":"datum.value === 0 || datum.value === 5 ? datum.label : ''","tickSize":{"condition":{"test":"datum.value % 5 === 0","value":-6},"value":-3}}}}},
{"data":{"values":[{}]},"mark":{"type":"text","text":"O"},"encoding":{"x":{"datum":1.02,"type":"quantitative","axis":{"orient":"top","labels":false,"title":null,"tickSize":{"condition":{"test":"datum.value % 2 === 0","value":-6},"value":-3}}},"y":{"datum":6.4,"type":"quantitative","axis":{"orient":"right","labels":false,"title":null,"tickSize":{"condition":{"test":"datum.value % 5 === 0","value":-6},"value":-3}}}}},
{"data":{"values":[{}]},"mark":{"type":"text","text":"δ2","fontSize":8,"dx":8.7,"dy":3.5},"encoding":{"x":{"datum":1.02,"type":"quantitative","axis":null},"y":{"datum":6.4,"type":"quantitative","axis":null}}},
{"data":{"values":[{}]},"mark":{"type":"text","text":"(Asp212) : HH(Tyr57)","dx":16},"encoding":{"x":{"datum":1.02,"type":"quantitative","axis":null},"y":{"datum":6.4,"type":"quantitative","axis":null}}}
]},
{"width":286,"height":57.4,"layer":[
{"mark":{"type":"line","color":"black","strokeWidth":1.2,"clip":true},"encoding":{"x":{"field":"t","type":"quantitative","scale":{"domain":[0,20],"nice":false},"axis":{"orient":"bottom","labels":false,"title":null,"tickSize":{"condition":{"test":"datum.value % 2 === 0","value":-6},"value":-3}}},"y":{"field":"b5","type":"quantitative","scale":{"domain":[0,10],"nice":false},"axis":{"orient":"left","title":"Distance (Å)","titleX":-44,"titleY":57.4,"titleBaseline":"middle","labelExpr":"datum.value === 0 || datum.value === 5 ? datum.label : ''","tickSize":{"condition":{"test":"datum.value % 5 === 0","value":-6},"value":-3}}}}},
{"data":{"values":[{}]},"mark":{"type":"text","text":"OE1(Glu194) : HH21(Arg82)"},"encoding":{"x":{"datum":0.81,"type":"quantitative","axis":{"orient":"top","labels":false,"title":null,"tickSize":{"condition":{"test":"datum.value % 2 === 0","value":-6},"value":-3}}},"y":{"datum":6.5,"type":"quantitative","axis":{"orient":"right","labels":false,"title":null,"tickSize":{"condition":{"test":"datum.value % 5 === 0","value":-6},"value":-3}}}}}
]},
{"width":286,"height":57.4,"layer":[
{"mark":{"type":"line","color":"black","strokeWidth":1.2,"clip":true},"encoding":{"x":{"field":"t","type":"quantitative","scale":{"domain":[0,20],"nice":false},"axis":{"orient":"bottom","labels":false,"title":null,"tickSize":{"condition":{"test":"datum.value % 2 === 0","value":-6},"value":-3}}},"y":{"field":"b6","type":"quantitative","scale":{"domain":[0,10],"nice":false},"axis":{"orient":"left","title":null,"labelExpr":"datum.value === 0 || datum.value === 5 ? datum.label : ''","tickSize":{"condition":{"test":"datum.value % 5 === 0","value":-6},"value":-3}}}}},
{"data":{"values":[{}]},"mark":{"type":"text","text":"OE1(Glu194) : HH(Tyr83)"},"encoding":{"x":{"datum":1.05,"type":"quantitative","axis":{"orient":"top","labels":false,"title":null,"tickSize":{"condition":{"test":"datum.value % 2 === 0","value":-6},"value":-3}}},"y":{"datum":6.3,"type":"quantitative","axis":{"orient":"right","labels":false,"title":null,"tickSize":{"condition":{"test":"datum.value % 5 === 0","value":-6},"value":-3}}}}}
]},
{"width":286,"height":57.4,"layer":[
{"mark":{"type":"line","color":"black","strokeWidth":1.2,"clip":true},"encoding":{"x":{"field":"t","type":"quantitative","scale":{"domain":[0,20],"nice":false},"axis":{"orient":"bottom","labels":false,"title":null,"tickSize":{"condition":{"test":"datum.value % 2 === 0","value":-6},"value":-3}}},"y":{"field":"b7","type":"quantitative","scale":{"domain":[0,10],"nice":false},"axis":{"orient":"left","title":null,"labelExpr":"datum.value === 0 || datum.value === 5 ? datum.label : ''","tickSize":{"condition":{"test":"datum.value % 5 === 0","value":-6},"value":-3}}}}},
{"data":{"values":[{}]},"mark":{"type":"text","text":"OE2(Glu194) : HH(Tyr83)"},"encoding":{"x":{"datum":1.05,"type":"quantitative","axis":{"orient":"top","labels":false,"title":null,"tickSize":{"condition":{"test":"datum.value % 2 === 0","value":-6},"value":-3}}},"y":{"datum":6.2,"type":"quantitative","axis":{"orient":"right","labels":false,"title":null,"tickSize":{"condition":{"test":"datum.value % 5 === 0","value":-6},"value":-3}}}}}
]},
{"width":286,"height":57.4,"layer":[
{"mark":{"type":"line","color":"black","strokeWidth":1.2,"clip":true},"encoding":{"x":{"field":"t","type":"quantitative","scale":{"domain":[0,20],"nice":false},"axis":{"orient":"bottom","labels":false,"title":null,"tickSize":{"condition":{"test":"datum.value % 2 === 0","value":-6},"value":-3}}},"y":{"field":"b8","type":"quantitative","scale":{"domain":[0,10],"nice":false},"axis":{"orient":"left","title":null,"labelExpr":"datum.value === 0 || datum.value === 5 ? datum.label : ''","tickSize":{"condition":{"test":"datum.value % 5 === 0","value":-6},"value":-3}}}}},
{"data":{"values":[{}]},"mark":{"type":"text","text":"OE1(Glu204) : HG1(Ser193)"},"encoding":{"x":{"datum":1.02,"type":"quantitative","axis":{"orient":"top","labels":false,"title":null,"tickSize":{"condition":{"test":"datum.value % 2 === 0","value":-6},"value":-3}}},"y":{"datum":5.25,"type":"quantitative","axis":{"orient":"right","labels":false,"title":null,"tickSize":{"condition":{"test":"datum.value % 5 === 0","value":-6},"value":-3}}}}}
]},
{"width":286,"height":57.4,"layer":[
{"mark":{"type":"line","color":"black","strokeWidth":1.2,"clip":true},"encoding":{"x":{"field":"t","type":"quantitative","scale":{"domain":[0,20],"nice":false},"axis":{"orient":"bottom","labels":false,"title":null,"tickSize":{"condition":{"test":"datum.value % 2 === 0","value":-6},"value":-3}}},"y":{"field":"b9","type":"quantitative","scale":{"domain":[0,10],"nice":false},"axis":{"orient":"left","title":null,"labelExpr":"datum.value === 0 || datum.value === 5 ? datum.label : ''","tickSize":{"condition":{"test":"datum.value % 5 === 0","value":-6},"value":-3}}}}},
{"data":{"values":[{}]},"mark":{"type":"text","text":"OE2(Glu204) : HH12(Arg82)"},"encoding":{"x":{"datum":1.02,"type":"quantitative","axis":{"orient":"top","labels":false,"title":null,"tickSize":{"condition":{"test":"datum.value % 2 === 0","value":-6},"value":-3}}},"y":{"datum":7.6,"type":"quantitative","axis":{"orient":"right","labels":false,"title":null,"tickSize":{"condition":{"test":"datum.value % 5 === 0","value":-6},"value":-3}}}}}
]},
{"width":286,"height":57.4,"layer":[
{"mark":{"type":"line","color":"black","strokeWidth":1.2,"clip":true},"encoding":{"x":{"field":"t","type":"quantitative","scale":{"domain":[0,20],"nice":false},"axis":{"orient":"bottom","title":null,"format":"d","labelExpr":"datum.value % 2 === 0 ? datum.label : ''","tickSize":{"condition":{"test":"datum.value % 2 === 0","value":-6},"value":-3}}},"y":{"field":"b10","type":"quantitative","scale":{"domain":[0,10],"nice":false},"axis":{"orient":"left","title":null,"labelExpr":"datum.value === 0 || datum.value === 5 ? datum.label : ''","tickSize":{"condition":{"test":"datum.value % 5 === 0","value":-6},"value":-3}}}}},
{"data":{"values":[{}]},"mark":{"type":"text","text":"H4B(Lyr216) : OG(Ser141)"},"encoding":{"x":{"datum":1.02,"type":"quantitative","axis":{"orient":"top","labels":false,"title":null,"tickSize":{"condition":{"test":"datum.value % 2 === 0","value":-6},"value":-3}}},"y":{"datum":6.0,"type":"quantitative","axis":{"orient":"right","labels":false,"title":null,"tickSize":{"condition":{"test":"datum.value % 5 === 0","value":-6},"value":-3}}}}},
{"data":{"values":[{}]},"mark":{"type":"text","text":"t","fontSize":18,"fontStyle":"italic","align":"right","baseline":"middle","dx":-2},"encoding":{"x":{"datum":9.2,"type":"quantitative","axis":null},"y":{"datum":-6.6,"type":"quantitative","axis":null}}},
{"data":{"values":[{}]},"mark":{"type":"text","text":"(ns)","fontSize":18,"align":"left","baseline":"middle","dx":3},"encoding":{"x":{"datum":9.2,"type":"quantitative","axis":null},"y":{"datum":-6.6,"type":"quantitative","axis":null}}}
]}
]}
],
"config":{
"view":{"stroke":"black","strokeWidth":1},
"font":"Liberation Serif",
"axis":{"domain":false,"grid":false,"tickColor":"black","tickWidth":1,"labelColor":"black","labelFont":"Liberation Serif","titleFont":"Liberation Serif","titleFontWeight":"normal","titleColor":"black","labelFlush":false,"labelOverlap":false},
"axisX":{"tickCount":40,"labelFontSize":14,"labelPadding":11,"titleFontSize":18},
"axisY":{"tickCount":10,"labelFontSize":15,"labelPadding":13,"titleFontSize":18},
"text":{"font":"Liberation Serif","fontSize":12,"align":"left","baseline":"alphabetic","color":"black"}
}
}
